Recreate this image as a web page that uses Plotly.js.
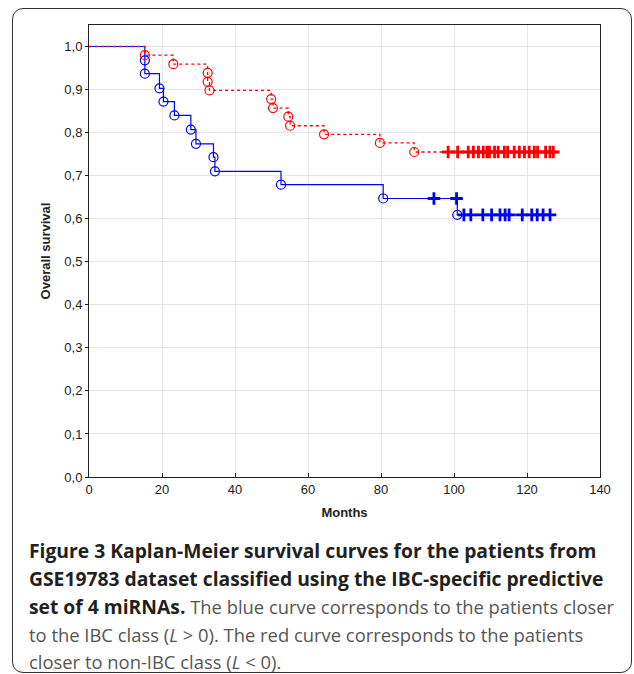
<!DOCTYPE html>
<html>
<head>
<meta charset="utf-8">
<script src="https://cdn.plot.ly/plotly-3.0.1.min.js"></script>
<style>
  html, body { margin: 0; padding: 0; background: #ffffff; }
  #wrap { position: relative; width: 634px; height: 674px; }
  #frame { position: absolute; left: 12px; top: 8px; width: 620px; height: 665px;
           border: 1.6px solid #333; border-radius: 11px; box-sizing: border-box; }
  #chart { position: absolute; left: 0; top: 0; width: 634px; height: 674px; }
</style>
</head>
<body>
<div id="wrap"><div id="frame"></div><div id="chart"></div></div>
<script>
// Blue group (closer to IBC class, L > 0): event times and survival after each event
const blueEventTimes = [15.3, 15.3, 19.3, 20.4, 23.4, 27.9, 29.3, 34.1, 34.5, 52.6, 80.6, 100.9];
const blueEventSurv  = [0.968, 0.937, 0.903, 0.872, 0.840, 0.807, 0.774, 0.743, 0.710, 0.679, 0.647, 0.609];
const blueCensTimes  = [94.5, 100.7, 102.7, 104.6, 107.9, 110.3, 112.6, 114.0, 115.1, 118.7, 121.3, 122.8, 124.4, 126.3];
const blueCensSurv   = [0.647, 0.647, 0.609, 0.609, 0.609, 0.609, 0.609, 0.609, 0.609, 0.609, 0.609, 0.609, 0.609, 0.609];

// Red group (closer to non-IBC class, L < 0)
const redEventTimes = [15.3, 23.1, 32.5, 32.5, 33.0, 49.9, 50.4, 54.6, 55.1, 64.4, 79.7, 89.1];
const redEventSurv  = [0.980, 0.959, 0.939, 0.918, 0.898, 0.878, 0.857, 0.837, 0.816, 0.796, 0.776, 0.755];
const redCensTimes  = [98.4, 101.0, 103.9, 105.3, 106.7, 108.0, 109.0, 109.7, 111.1, 112.1, 113.8, 114.7,
                       116.5, 117.9, 119.3, 120.6, 122.0, 122.9, 125.1, 126.3, 127.2];
const redCensSurv   = redCensTimes.map(() => 0.755);

const xTicks = [0, 20, 40, 60, 80, 100, 120, 140];
const yTicks = [0, 0.1, 0.2, 0.3, 0.4, 0.5, 0.6, 0.7, 0.8, 0.9, 1.0];
const yTickText = ["0,0", "0,1", "0,2", "0,3", "0,4", "0,5", "0,6", "0,7", "0,8", "0,9", "1,0"];

const captionLines = [
  "<b>Figure 3 Kaplan-Meier survival curves for the patients from</b>",
  "<b>GSE19783 dataset classified using the IBC-specific predictive</b>",
  "<b>set of 4 miRNAs.</b> The blue curve corresponds to the patients closer",
  "to the IBC class (<i>L</i> &gt; 0). The red curve corresponds to the patients",
  "closer to non-IBC class (<i>L</i> &lt; 0)."
];

function stepLine(evT, evS, cenT) {
  const xs = [0].concat(evT);
  const ys = [1].concat(evS);
  const lastT = Math.max(...cenT, ...evT);
  xs.push(lastT);
  ys.push(evS[evS.length - 1]);
  return {xs, ys};
}

const BLUE = '#0000ff', RED = '#ff0000';
const bl = stepLine(blueEventTimes, blueEventSurv, blueCensTimes);
const rl = stepLine(redEventTimes, redEventSurv, redCensTimes);

const traces = [
  {x: bl.xs, y: bl.ys, mode: 'lines', line: {shape: 'hv', color: BLUE, width: 1.2}, hoverinfo: 'skip'},
  {x: rl.xs, y: rl.ys, mode: 'lines', line: {shape: 'hv', color: RED, width: 1.3, dash: 'dot'}, hoverinfo: 'skip'},
  {x: blueEventTimes, y: blueEventSurv, mode: 'markers',
   marker: {symbol: 'circle-open', size: 9, color: BLUE, line: {width: 1.2, color: BLUE}}},
  {x: redEventTimes, y: redEventSurv, mode: 'markers',
   marker: {symbol: 'circle-open', size: 9, color: RED, line: {width: 1.2, color: RED}}},
  {x: blueCensTimes, y: blueCensSurv, mode: 'markers',
   marker: {symbol: 'cross-thin', size: 9, color: BLUE, line: {width: 2.8, color: BLUE}}},
  {x: redCensTimes, y: redCensSurv, mode: 'markers',
   marker: {symbol: 'cross-thin', size: 9, color: RED, line: {width: 2.8, color: RED}}}
];

const L = 89, R = 600, T = 25, B = 477;
const pw = R - L, ph = B - T;
const captionY = [550, 578, 606, 634, 661];
const annotations = captionLines.map((txt, i) => ({
  xref: 'paper', yref: 'paper',
  x: (27 - L) / pw, y: (B - captionY[i]) / ph,
  xanchor: 'left', yanchor: 'middle', showarrow: false, align: 'left',
  text: txt.replace(/<b>/g, '<span style="color:#231f20;font-size:19.3px"><b>').replace(/<\/b>/g, '</b></span>'),
  font: {family: '"Open Sans", sans-serif', size: 18.4, color: '#555555'}
}));

const axisFont = {family: '"Liberation Sans", Arial, sans-serif', size: 13, color: '#222'};

const layout = {
  width: 634, height: 674,
  margin: {l: L, r: 634 - R, t: T, b: 674 - B, pad: 0},
  paper_bgcolor: 'rgba(0,0,0,0)', plot_bgcolor: '#ffffff',
  showlegend: false,
  xaxis: {
    range: [0, 140], tickvals: xTicks, ticktext: xTicks.map(String),
    showgrid: true, gridcolor: '#e6e6e6', gridwidth: 1, zeroline: false,
    showline: true, linecolor: '#222', linewidth: 1, mirror: true,
    ticks: 'inside', ticklen: 4, tickcolor: '#222',
    tickfont: axisFont,
    title: {text: '<b>Months</b>', font: axisFont, standoff: 12}
  },
  yaxis: {
    range: [0, 1.05], tickvals: yTicks, ticktext: yTickText,
    showgrid: true, gridcolor: '#e6e6e6', gridwidth: 1, zeroline: false,
    showline: true, linecolor: '#222', linewidth: 1, mirror: true,
    ticks: 'outside', ticklen: 3, tickcolor: '#222',
    tickfont: axisFont,
    title: {text: '<b>Overall survival</b>', font: axisFont, standoff: 10}
  },
  annotations: annotations
};

Plotly.newPlot('chart', traces, layout, {displayModeBar: false, staticPlot: true});
</script>
</body>
</html>
